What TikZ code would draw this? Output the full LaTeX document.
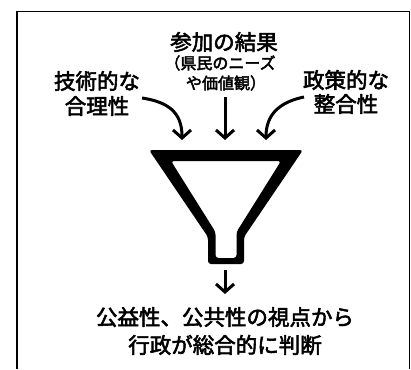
\documentclass[tikz,border=0pt]{standalone}
\usepackage{fontspec}
\newfontfamily\jp{Noto Sans CJK JP}[FakeBold=2.6]
\usetikzlibrary{arrows.meta}
\begin{document}
\begin{tikzpicture}[x=1pt,y=-1pt,
  lbl/.style={inner sep=0pt, font=\jp\fontsize{21.5}{24}\selectfont},
  sml/.style={inner sep=0pt, font=\jp\fontsize{16}{18}\selectfont},
  arr/.style={line width=3pt, -{Straight Barb[length=8pt,width=18pt]}},
  frame/.style={line width=1.7pt},
]
\useasboundingbox (0,0) rectangle (411,369);
\draw[frame] (17,369) -- (17,11.5) -- (409.5,11.5) -- (409.5,369);

\node[lbl] (top) at (224,42) {参加の結果};
\node[sml] (n1) at (220,63) {（県民のニーズ};
\node[sml] (n2) at (226,83) {や価値観）};
\node[lbl] (l1) at (97,81) {技術的な};
\node[lbl] (l2) at (97,106) {合理性};
\node[lbl] (r1) at (346,80) {政策的な};
\node[lbl] (r2) at (346,104) {整合性};
\node[lbl] (b1) at (225,317) {公益性、公共性の視点から};
\node[lbl] (b2) at (225,345) {行政が総合的に判断};

\coordinate (ltail) at (142,98);
\coordinate (ltip) at (182,140);
\coordinate (mtail) at (225,97);
\coordinate (mtip) at (225,140);
\coordinate (rtail) at (304,97);
\coordinate (rtip) at (266,140);
\coordinate (btail) at (225,270);
\coordinate (btip) at (225,294);

\draw[arr] (ltail) .. controls (168,102) and (182,112) .. (ltip);
\draw[arr] (mtail) -- (mtip);
\draw[arr] (rtail) .. controls (280,102) and (266,114) .. (rtip);
\draw[arr] (btail) -- (btip);

\fill[even odd rule, rounded corners=3pt]
  (149,150) -- (303,150) -- (244,237) -- (244,264) -- (208,264) -- (208,237) -- cycle
  (171,161) -- (281,161) -- (236.5,232) -- (236.5,258) -- (215.5,258) -- (215.5,232) -- cycle;
\end{tikzpicture}
\end{document}
